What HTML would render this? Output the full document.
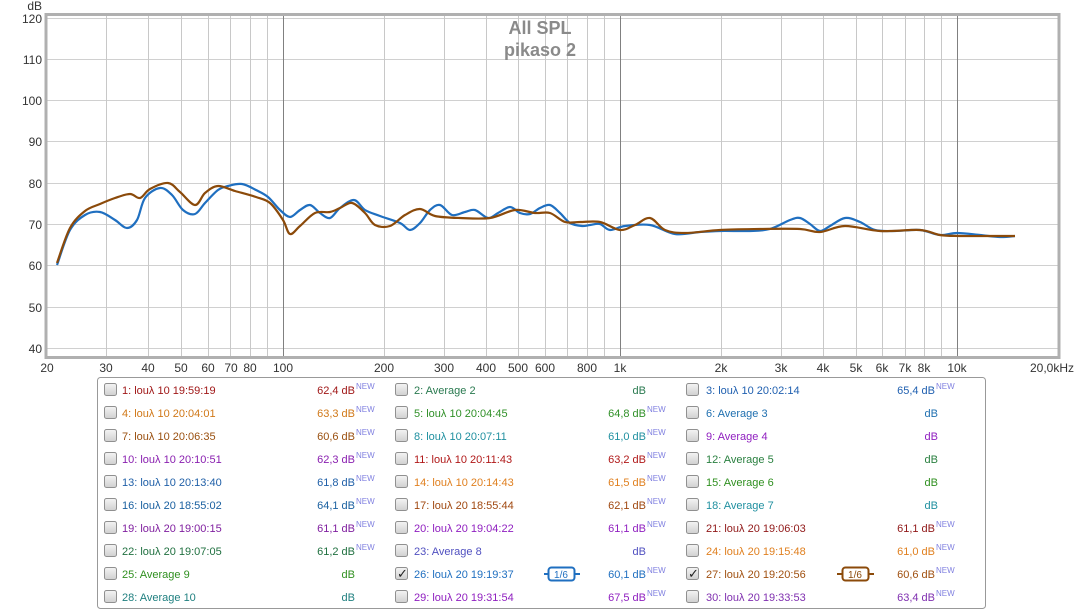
<!DOCTYPE html>
<html><head><meta charset="utf-8"><style>
body{margin:0;background:#fff;}
svg text{font-family:"Liberation Sans",sans-serif;}
</style></head><body>
<svg width="1081" height="611" xmlns="http://www.w3.org/2000/svg">
<rect width="1081" height="611" fill="#fff"/>
<g stroke="#d0d0d0" stroke-width="1">
<line x1="47" y1="59.5" x2="1058" y2="59.5"/><line x1="47" y1="100.5" x2="1058" y2="100.5"/>
<line x1="47" y1="141.5" x2="1058" y2="141.5"/><line x1="47" y1="183.5" x2="1058" y2="183.5"/>
<line x1="47" y1="224.5" x2="1058" y2="224.5"/><line x1="47" y1="265.5" x2="1058" y2="265.5"/>
<line x1="47" y1="307.5" x2="1058" y2="307.5"/><line x1="47" y1="348.5" x2="1058" y2="348.5"/>
<line x1="47" y1="18.5" x2="1058" y2="18.5"/>
</g>
<g stroke="#c8c8c8" stroke-width="1">
<line x1="106.5" y1="15" x2="106.5" y2="357"/><line x1="148.5" y1="15" x2="148.5" y2="357"/>
<line x1="181.5" y1="15" x2="181.5" y2="357"/><line x1="208.5" y1="15" x2="208.5" y2="357"/>
<line x1="230.5" y1="15" x2="230.5" y2="357"/><line x1="250.5" y1="15" x2="250.5" y2="357"/>
<line x1="267.5" y1="15" x2="267.5" y2="357"/>
<line x1="384.5" y1="15" x2="384.5" y2="357"/><line x1="444.5" y1="15" x2="444.5" y2="357"/>
<line x1="486.5" y1="15" x2="486.5" y2="357"/><line x1="518.5" y1="15" x2="518.5" y2="357"/>
<line x1="545.5" y1="15" x2="545.5" y2="357"/><line x1="567.5" y1="15" x2="567.5" y2="357"/>
<line x1="587.5" y1="15" x2="587.5" y2="357"/><line x1="604.5" y1="15" x2="604.5" y2="357"/>
<line x1="721.5" y1="15" x2="721.5" y2="357"/><line x1="781.5" y1="15" x2="781.5" y2="357"/>
<line x1="823.5" y1="15" x2="823.5" y2="357"/><line x1="856.5" y1="15" x2="856.5" y2="357"/>
<line x1="882.5" y1="15" x2="882.5" y2="357"/><line x1="905.5" y1="15" x2="905.5" y2="357"/>
<line x1="924.5" y1="15" x2="924.5" y2="357"/><line x1="941.5" y1="15" x2="941.5" y2="357"/>
</g>
<g stroke="#808080" stroke-width="1">
<line x1="283.5" y1="15" x2="283.5" y2="357"/><line x1="620.5" y1="15" x2="620.5" y2="357"/>
<line x1="957.5" y1="15" x2="957.5" y2="357"/>
</g>
<rect x="46" y="14.5" width="1013" height="343" fill="none" stroke="#b0b0b0" stroke-width="3"/>
<text x="540" y="34" font-size="18" font-weight="bold" fill="#8a8a8a" text-anchor="middle">All SPL</text>
<text x="540" y="56" font-size="18" font-weight="bold" fill="#8a8a8a" text-anchor="middle">pikaso 2</text>
<g font-size="12" fill="#333" text-anchor="end">
<text x="42" y="10">dB</text>
<text x="42" y="23">120</text><text x="42" y="64">110</text><text x="42" y="105">100</text>
<text x="42" y="146">90</text><text x="42" y="188">80</text><text x="42" y="229">70</text>
<text x="42" y="270">60</text><text x="42" y="312">50</text><text x="42" y="353">40</text>
</g>
<g font-size="12" fill="#333" text-anchor="middle">
<text x="47" y="372">20</text><text x="106" y="372">30</text><text x="148" y="372">40</text>
<text x="181" y="372">50</text><text x="208" y="372">60</text><text x="231" y="372">70</text>
<text x="250" y="372">80</text><text x="283" y="372">100</text><text x="384" y="372">200</text>
<text x="444" y="372">300</text><text x="486" y="372">400</text><text x="518" y="372">500</text>
<text x="545" y="372">600</text><text x="587" y="372">800</text><text x="620" y="372">1k</text>
<text x="721" y="372">2k</text><text x="781" y="372">3k</text><text x="823" y="372">4k</text>
<text x="856" y="372">5k</text><text x="882" y="372">6k</text><text x="905" y="372">7k</text>
<text x="924" y="372">8k</text><text x="957" y="372">10k</text><text x="1052" y="372">20,0kHz</text>
</g>
<polyline class="crv" fill="none" stroke="#1f6fc0" stroke-width="2.2" stroke-linejoin="round" points="57,265 70,230 85,215 100,212 115,220 127,228 137,220 145,198 160,188 172,195 183,210 195,214 205,203 218,190 228,186 242,184 256,190 268,197 280,210 290,217 300,210 310,205 320,213 330,218 340,208 354,200 365,210 380,216 400,223 410,230 420,223 430,210 440,205 452,215 465,212 475,210 488,218 498,213 510,207 520,213 530,214 540,208 550,205 560,213 570,223 582,226 590,225 600,224 610,230 625,226 650,225 675,234 700,232 720,231 750,231 770,229 790,220 800,218 810,224 820,231 830,226 845,218 860,222 875,230 895,231 920,230 940,235 957,233 980,235 1000,237 1015,236"/>
<polyline class="crv" fill="none" stroke="#8b4a0a" stroke-width="2.2" stroke-linejoin="round" points="57,263 70,228 85,211 100,204 115,198 130,194 140,198 150,189 168,183 180,192 195,205 205,193 218,186 235,191 256,197 270,203 283,220 290,234 300,226 315,213 330,212 340,208 352,203 365,213 375,225 390,226 405,215 420,209 435,216 460,218 490,218 515,210 535,213 550,213 565,222 580,222 600,222 620,230 635,225 650,218 665,230 685,233 720,230 760,229 800,229 820,232 845,226 880,231 920,230 940,235 960,236 1000,236 1015,236"/>
<rect x="97.5" y="377.5" width="888" height="231" rx="3" fill="#fff" stroke="#999"/>
<g font-size="11">
<defs><linearGradient id="cb" x1="0" y1="0" x2="0" y2="1"><stop offset="0" stop-color="#f4f4f4"/><stop offset="1" stop-color="#d0d0d0"/></linearGradient></defs>
<g fill="url(#cb)" stroke="#909090">
<rect x="104.5" y="383.5" width="12" height="12" rx="2"/><rect x="395.5" y="383.5" width="12" height="12" rx="2"/><rect x="686.5" y="383.5" width="12" height="12" rx="2"/>
<rect x="104.5" y="406.5" width="12" height="12" rx="2"/><rect x="395.5" y="406.5" width="12" height="12" rx="2"/><rect x="686.5" y="406.5" width="12" height="12" rx="2"/>
<rect x="104.5" y="429.5" width="12" height="12" rx="2"/><rect x="395.5" y="429.5" width="12" height="12" rx="2"/><rect x="686.5" y="429.5" width="12" height="12" rx="2"/>
<rect x="104.5" y="452.5" width="12" height="12" rx="2"/><rect x="395.5" y="452.5" width="12" height="12" rx="2"/><rect x="686.5" y="452.5" width="12" height="12" rx="2"/>
<rect x="104.5" y="475.5" width="12" height="12" rx="2"/><rect x="395.5" y="475.5" width="12" height="12" rx="2"/><rect x="686.5" y="475.5" width="12" height="12" rx="2"/>
<rect x="104.5" y="498.5" width="12" height="12" rx="2"/><rect x="395.5" y="498.5" width="12" height="12" rx="2"/><rect x="686.5" y="498.5" width="12" height="12" rx="2"/>
<rect x="104.5" y="521.5" width="12" height="12" rx="2"/><rect x="395.5" y="521.5" width="12" height="12" rx="2"/><rect x="686.5" y="521.5" width="12" height="12" rx="2"/>
<rect x="104.5" y="544.5" width="12" height="12" rx="2"/><rect x="395.5" y="544.5" width="12" height="12" rx="2"/><rect x="686.5" y="544.5" width="12" height="12" rx="2"/>
<rect x="104.5" y="567.5" width="12" height="12" rx="2"/><rect x="395.5" y="567.5" width="12" height="12" rx="2"/><rect x="686.5" y="567.5" width="12" height="12" rx="2"/>
<rect x="104.5" y="590.5" width="12" height="12" rx="2"/><rect x="395.5" y="590.5" width="12" height="12" rx="2"/><rect x="686.5" y="590.5" width="12" height="12" rx="2"/>
</g>
<text x="397" y="578" font-size="13" fill="#222">✓</text><text x="688" y="578" font-size="13" fill="#222">✓</text>
<rect x="548.5" y="567.5" width="26" height="13" rx="3" fill="#fff" stroke="#1f6fc0" stroke-width="2"/>
<line x1="544" y1="574" x2="549" y2="574" stroke="#1f6fc0" stroke-width="2"/><line x1="574" y1="574" x2="580" y2="574" stroke="#1f6fc0" stroke-width="2"/>
<text x="561" y="578" font-size="10" fill="#1f6fc0" text-anchor="middle">1/6</text>
<rect x="842.5" y="567.5" width="26" height="13" rx="3" fill="#fff" stroke="#8b4a0a" stroke-width="2"/>
<line x1="837" y1="574" x2="843" y2="574" stroke="#8b4a0a" stroke-width="2"/><line x1="868" y1="574" x2="874" y2="574" stroke="#8b4a0a" stroke-width="2"/>
<text x="855" y="578" font-size="10" fill="#8b4a0a" text-anchor="middle">1/6</text>
<text x="122" y="394" fill="#a01818">1: louλ 10 19:59:19</text><text x="355" y="394" fill="#a01818" text-anchor="end">62,4 dB</text>
<text x="122" y="417" fill="#d07818">4: louλ 10 20:04:01</text><text x="355" y="417" fill="#d07818" text-anchor="end">63,3 dB</text>
<text x="122" y="440" fill="#9a5010">7: louλ 10 20:06:35</text><text x="355" y="440" fill="#9a5010" text-anchor="end">60,6 dB</text>
<text x="122" y="463" fill="#8a20b0">10: louλ 10 20:10:51</text><text x="355" y="463" fill="#8a20b0" text-anchor="end">62,3 dB</text>
<text x="122" y="486" fill="#2060a8">13: louλ 10 20:13:40</text><text x="355" y="486" fill="#2060a8" text-anchor="end">61,8 dB</text>
<text x="122" y="509" fill="#1a60a0">16: louλ 20 18:55:02</text><text x="355" y="509" fill="#1a60a0" text-anchor="end">64,1 dB</text>
<text x="122" y="532" fill="#8020a0">19: louλ 20 19:00:15</text><text x="355" y="532" fill="#8020a0" text-anchor="end">61,1 dB</text>
<text x="122" y="555" fill="#207040">22: louλ 20 19:07:05</text><text x="355" y="555" fill="#207040" text-anchor="end">61,2 dB</text>
<text x="122" y="578" fill="#309020">25: Average 9</text><text x="355" y="578" fill="#309020" text-anchor="end">dB</text>
<text x="122" y="601" fill="#208080">28: Average 10</text><text x="355" y="601" fill="#208080" text-anchor="end">dB</text>
<text x="414" y="394" fill="#2a7a50">2: Average 2</text><text x="646" y="394" fill="#2a7a50" text-anchor="end">dB</text>
<text x="414" y="417" fill="#309028">5: louλ 10 20:04:45</text><text x="646" y="417" fill="#309028" text-anchor="end">64,8 dB</text>
<text x="414" y="440" fill="#2090a0">8: louλ 10 20:07:11</text><text x="646" y="440" fill="#2090a0" text-anchor="end">61,0 dB</text>
<text x="414" y="463" fill="#b01818">11: louλ 10 20:11:43</text><text x="646" y="463" fill="#b01818" text-anchor="end">63,2 dB</text>
<text x="414" y="486" fill="#e08020">14: louλ 10 20:14:43</text><text x="646" y="486" fill="#e08020" text-anchor="end">61,5 dB</text>
<text x="414" y="509" fill="#a04810">17: louλ 20 18:55:44</text><text x="646" y="509" fill="#a04810" text-anchor="end">62,1 dB</text>
<text x="414" y="532" fill="#9020c0">20: louλ 20 19:04:22</text><text x="646" y="532" fill="#9020c0" text-anchor="end">61,1 dB</text>
<text x="414" y="555" fill="#5050c0">23: Average 8</text><text x="646" y="555" fill="#5050c0" text-anchor="end">dB</text>
<text x="414" y="578" fill="#1f6fc0">26: louλ 20 19:19:37</text><text x="646" y="578" fill="#1f6fc0" text-anchor="end">60,1 dB</text>
<text x="414" y="601" fill="#9020c0">29: louλ 20 19:31:54</text><text x="646" y="601" fill="#9020c0" text-anchor="end">67,5 dB</text>
<text x="706" y="394" fill="#2060b0">3: louλ 10 20:02:14</text><text x="935" y="394" fill="#2060b0" text-anchor="end">65,4 dB</text>
<text x="706" y="417" fill="#2070b0">6: Average 3</text><text x="938" y="417" fill="#2070b0" text-anchor="end">dB</text>
<text x="706" y="440" fill="#9020c0">9: Average 4</text><text x="938" y="440" fill="#9020c0" text-anchor="end">dB</text>
<text x="706" y="463" fill="#2a8040">12: Average 5</text><text x="938" y="463" fill="#2a8040" text-anchor="end">dB</text>
<text x="706" y="486" fill="#309020">15: Average 6</text><text x="938" y="486" fill="#309020" text-anchor="end">dB</text>
<text x="706" y="509" fill="#2090a0">18: Average 7</text><text x="938" y="509" fill="#2090a0" text-anchor="end">dB</text>
<text x="706" y="532" fill="#901818">21: louλ 20 19:06:03</text><text x="935" y="532" fill="#901818" text-anchor="end">61,1 dB</text>
<text x="706" y="555" fill="#e08020">24: louλ 20 19:15:48</text><text x="935" y="555" fill="#e08020" text-anchor="end">61,0 dB</text>
<text x="706" y="578" fill="#a05010">27: louλ 20 19:20:56</text><text x="935" y="578" fill="#a05010" text-anchor="end">60,6 dB</text>
<text x="706" y="601" fill="#8030b0">30: louλ 20 19:33:53</text><text x="935" y="601" fill="#8030b0" text-anchor="end">63,4 dB</text>
<g font-size="8" fill="#8080e0">
<text x="356" y="389">NEW</text><text x="356" y="412">NEW</text><text x="356" y="435">NEW</text><text x="356" y="458">NEW</text><text x="356" y="481">NEW</text><text x="356" y="504">NEW</text><text x="356" y="527">NEW</text><text x="356" y="550">NEW</text>
<text x="647" y="412">NEW</text><text x="647" y="435">NEW</text><text x="647" y="458">NEW</text><text x="647" y="481">NEW</text><text x="647" y="504">NEW</text><text x="647" y="527">NEW</text><text x="647" y="573">NEW</text><text x="647" y="596">NEW</text>
<text x="936" y="389">NEW</text><text x="936" y="527">NEW</text><text x="936" y="550">NEW</text><text x="936" y="573">NEW</text><text x="936" y="596">NEW</text>
</g>
</g>
</svg>
<script>
document.querySelectorAll('polyline.crv').forEach(function(pl){
  var p=pl.getAttribute('points').trim().split(/\s+/).map(function(s){var a=s.split(',');return [+a[0],+a[1]];});
  var d='M'+p[0][0]+','+p[0][1];
  for(var i=0;i<p.length-1;i++){
    var p0=p[Math.max(i-1,0)],p1=p[i],p2=p[i+1],p3=p[Math.min(i+2,p.length-1)];
    var c1x=p1[0]+(p2[0]-p0[0])/6,c1y=p1[1]+(p2[1]-p0[1])/6;
    var c2x=p2[0]-(p3[0]-p1[0])/6,c2y=p2[1]-(p3[1]-p1[1])/6;
    d+=' C'+c1x.toFixed(1)+','+c1y.toFixed(1)+' '+c2x.toFixed(1)+','+c2y.toFixed(1)+' '+p2[0]+','+p2[1];
  }
  var path=document.createElementNS('http://www.w3.org/2000/svg','path');
  path.setAttribute('d',d);path.setAttribute('fill','none');
  path.setAttribute('stroke',pl.getAttribute('stroke'));path.setAttribute('stroke-width','2.2');
  path.setAttribute('stroke-linejoin','round');
  pl.parentNode.replaceChild(path,pl);
});
</script>
</body></html>
